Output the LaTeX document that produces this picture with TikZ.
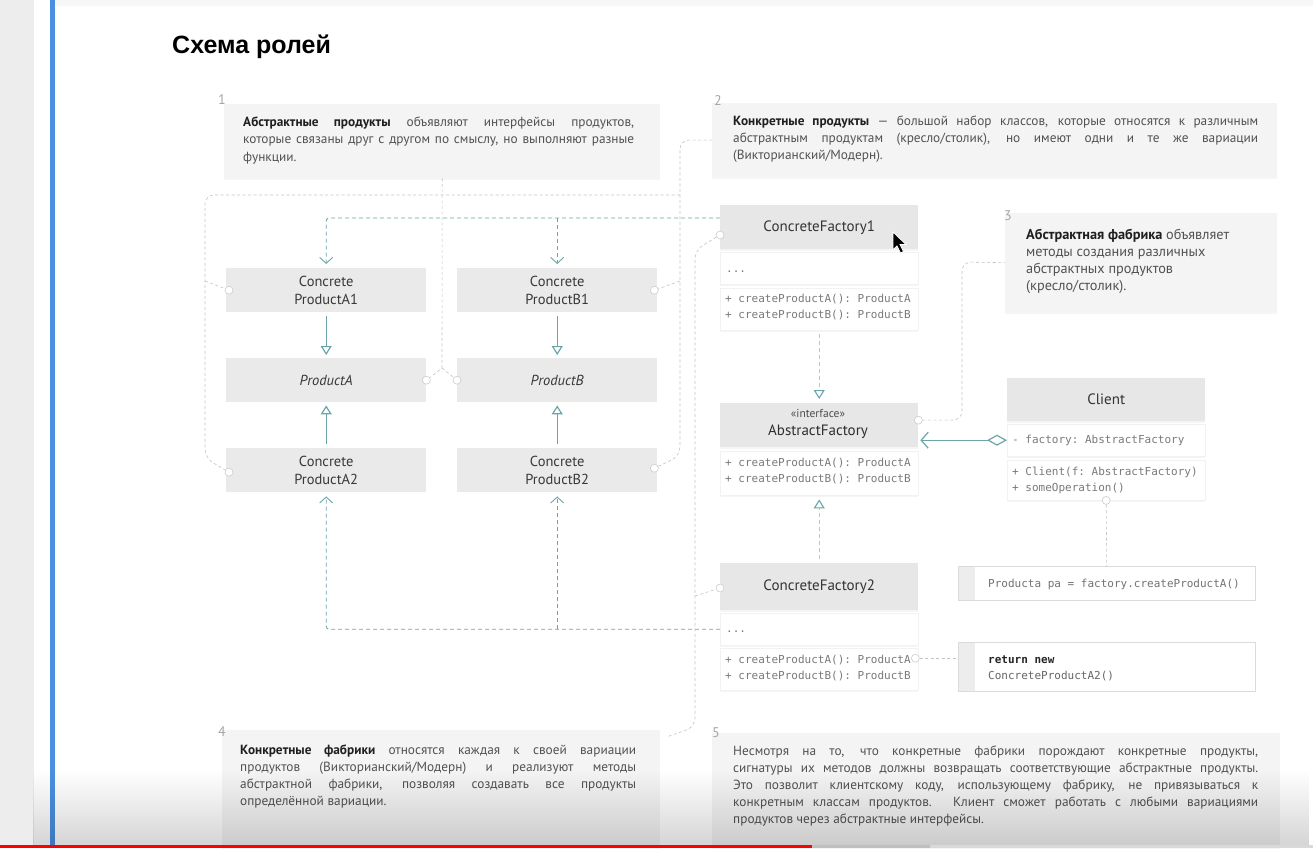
\documentclass[tikz,border=0pt]{standalone}
\usepackage{fontspec}
\setmainfont{PT Sans}
\setmonofont{DejaVu Sans Mono}
\newfontfamily\titlefont{Liberation Sans}
\usetikzlibrary{arrows.meta,shadows,fadings}
\definecolor{umlteal}{HTML}{6AA6A9}
\definecolor{notegray}{HTML}{F4F4F4}
\definecolor{hdrgray}{HTML}{E7E7E7}
\definecolor{prodgray}{HTML}{EAEAEA}
\definecolor{linegray}{HTML}{C4C4C4}
\definecolor{ytred}{HTML}{FF0000}
\definecolor{barblue}{HTML}{4A90E2}
\tikzfading[name=fadeup, top color=transparent!100, bottom color=transparent!25]
\newcommand{\jl}[1]{\makebox[\linewidth][s]{#1}}
\newcommand{\bt}[1]{\textcolor{black!88}{\textbf{#1}}}
\begin{document}
\begin{tikzpicture}[x=1pt,y=-1pt,
  notebox/.style={fill=notegray, draw=none, inner sep=0, anchor=north west,
    drop shadow={opacity=0.07, shadow xshift=0pt, shadow yshift=-2pt}},
  ntext/.style={inner sep=0, anchor=base west, text=black!68, font=\fontsize{13.3}{17}\selectfont},
  numl/.style={inner sep=0, text=black!35, font=\fontsize{14}{16}\selectfont},
  prod/.style={fill=prodgray, anchor=north west, minimum width=200pt, minimum height=44pt,
    inner sep=0, align=center, text=black!78, font=\fontsize{14.5}{18}\selectfont},
  hdr/.style={fill=hdrgray, anchor=north west, minimum width=198pt, inner sep=0,
    text=black!80, font=\fontsize{15}{17}\selectfont,
    drop shadow={opacity=0.08, shadow xshift=0pt, shadow yshift=-2pt}},
  sect/.style={fill=white, draw=black!5, anchor=north west, minimum width=198pt, inner sep=0,
    drop shadow={opacity=0.08, shadow xshift=0pt, shadow yshift=-2pt}},
  codebox/.style={fill=white, draw=black!14, anchor=north west, minimum width=297pt, inner sep=0},
  mtext/.style={inner sep=0, anchor=base west, text=black!52, font=\ttfamily\fontsize{11}{16}\selectfont},
  circ/.style={circle, draw=black!20, fill=white, minimum size=8pt, inner sep=0, line width=0.6pt},
  inh/.style={umlteal, line width=1.2pt, -{Triangle[open, length=9pt, width=11pt]}, shorten >=3pt, shorten <=4pt},
  dep/.style={umlteal, line width=0.9pt, dash pattern=on 4pt off 3pt, -{Straight Barb[length=6pt, width=13pt]}, shorten >=4pt},
  real/.style={linegray, line width=0.7pt, dash pattern=on 4pt off 3pt, -{Triangle[open, color=umlteal, length=9pt, width=11pt, line width=1.1pt]}, shorten >=4pt, shorten <=4pt},
  agg/.style={umlteal, line width=1.2pt, {Diamond[open, length=20pt, width=11pt]}-{Straight Barb[length=7pt, width=16pt]}, shorten >=2pt},
  notel/.style={linegray, line width=0.6pt, dash pattern=on 3pt off 2.5pt}
]
\useasboundingbox (0,0) rectangle (1313,848);
% background
\fill[white] (0,0) rectangle (1313,848);
\fill[black!7] (0,0) rectangle (34,848);
\fill[black!3] (55,0) rectangle (1313,6);
\fill[barblue] (50,0) rectangle (55,848);

% title
\node[anchor=base west, inner sep=0, text=black, font=\titlefont\bfseries\fontsize{25}{30}\selectfont] (title) at (172,54) {Схема ролей};

% notes
\node[notebox, minimum width=436pt, minimum height=74pt] (n1) at (224,104) {};
\node[notebox, minimum width=565pt, minimum height=74pt] (n2) at (712,103) {};
\node[notebox, minimum width=272pt, minimum height=99pt] (n3) at (1005,213) {};
\node[notebox, minimum width=438pt, minimum height=120pt] (n4) at (222,730) {};
\node[notebox, minimum width=568pt, minimum height=118pt] (n5) at (712,733) {};

\node[numl] (num1) at (222,100) {1};
\node[numl] (num2) at (718,101) {2};
\node[numl] (num3) at (1008,216) {3};
\node[numl] (num4) at (222,732) {4};
\node[numl] (num5) at (716,733) {5};

\node[ntext] (n1t) at (243,127) {\parbox[t]{391pt}{\jl{\bt{Абстрактные продукты} объявляют интерфейсы продуктов,}\\
\jl{которые связаны друг с другом по смыслу, но выполняют разные}\\
функции.}};
\node[ntext] (n2t) at (733,125) {\parbox[t]{525pt}{\jl{\bt{Конкретные продукты} — большой набор классов, которые относятся к различным}\\
\jl{абстрактным продуктам (кресло/столик), но имеют одни и те же вариации}\\
(Викторианский/Модерн).}};
\node[ntext, font=\fontsize{14.3}{17}\selectfont] (n3t) at (1026,239) {\parbox[t]{245pt}{\bt{Абстрактная фабрика} объявляет\\
методы создания различных\\
абстрактных продуктов\\
(кресло/столик).}};
\node[ntext] (n4t) at (240,754) {\parbox[t]{396pt}{\jl{\bt{Конкретные фабрики} относятся каждая к своей вариации}\\
\jl{продуктов (Викторианский/Модерн) и реализуют методы}\\
\jl{абстрактной фабрики, позволяя создавать все продукты}\\
определённой вариации.}};
\node[ntext] (n5t) at (733,755) {\parbox[t]{525pt}{\jl{Несмотря на то, что конкретные фабрики порождают конкретные продукты,}\\
\jl{сигнатуры их методов должны возвращать соответствующие абстрактные продукты.}\\
\jl{Это позволит клиентскому коду, использующему фабрику, не привязываться к}\\
\jl{конкретным классам продуктов. Клиент сможет работать с любыми вариациями}\\
продуктов через абстрактные интерфейсы.}};

% products
\node[prod] (cpa1) at (226,268) {Concrete\\ProductA1};
\node[prod] (pa) at (226,358) {\itshape ProductA};
\node[prod] (cpa2) at (226,448) {Concrete\\ProductA2};
\node[prod] (cpb1) at (457,268) {Concrete\\ProductB1};
\node[prod] (pb) at (457,358) {\itshape ProductB};
\node[prod] (cpb2) at (457,448) {Concrete\\ProductB2};

% class boxes
\node[hdr, minimum height=44pt] (cf1) at (720,205) {ConcreteFactory1};
\node[sect, minimum height=32pt] (cf1a) at (720,252) {};
\node[sect, minimum height=42pt] (cf1m) at (720,288) {};
\node[hdr, minimum height=44pt] (af) at (720,403) {};
\node[sect, minimum height=44pt] (afm) at (720,451) {};
\node[hdr, minimum height=47pt] (cf2) at (720,563) {ConcreteFactory2};
\node[sect, minimum height=32pt] (cf2a) at (720,613) {};
\node[sect, minimum height=42pt] (cf2m) at (720,648) {};
\node[hdr, minimum height=43pt] (client) at (1007,378) {Client};
\node[sect, minimum height=32pt] (clienta) at (1007,424) {};
\node[sect, minimum height=40pt] (clientm) at (1007,460) {};
\node[codebox, minimum height=34pt] (code1) at (958,566) {};
\node[codebox, minimum height=49pt] (code2) at (958,642) {};
\fill[black!7] ([shift={(0.5pt,-0.5pt)}]code1.north west) rectangle ([xshift=17pt, yshift=0.5pt]code1.south west);
\fill[black!7] ([shift={(0.5pt,-0.5pt)}]code2.north west) rectangle ([xshift=17pt, yshift=0.5pt]code2.south west);

\node[inner sep=0, text=black!70, font=\fontsize{11.5}{13}\selectfont] (aflab1) at (818,413) {«interface»};
\node[inner sep=0, text=black!82, font=\fontsize{15}{17}\selectfont] (aflab2) at (818,432) {AbstractFactory};

\node[mtext] (cf1dots) at (726,272) {...};
\node[mtext] (cf1mt) at (725,302) {\parbox[t]{192pt}{+ createProductA(): ProductA\\+ createProductB(): ProductB}};
\node[mtext] (afmt) at (725,466) {\parbox[t]{192pt}{+ createProductA(): ProductA\\+ createProductB(): ProductB}};
\node[mtext] (cf2dots) at (726,632) {...};
\node[mtext] (cf2mt) at (725,663) {\parbox[t]{192pt}{+ createProductA(): ProductA\\+ createProductB(): ProductB}};
\node[mtext] (clat) at (1012,443) {- factory: AbstractFactory};
\node[mtext] (clmt) at (1012,475) {\parbox[t]{192pt}{+ Client(f: AbstractFactory)\\+ someOperation()}};
\node[mtext, text=black!55] (c1t) at (988,587) {Producta pa = factory.createProductA()};
\node[mtext, text=black!60] (c2t) at (988,663) {\parbox[t]{250pt}{\textcolor{black!85}{\bfseries return new}\\ConcreteProductA2()}};

% inheritance
\draw[inh] (cpa1.south) -- (pa.north);
\draw[inh] (cpa2.north) -- (pa.south);
\draw[inh] (cpb1.south) -- (pb.north);
\draw[inh] (cpb2.north) -- (pb.south);

% dependencies from factories to concrete products
\coordinate (dtop) at ([yshift=-13pt]cf1.north west);
\coordinate (dbot) at (cf2a.west);
\draw[dep, rounded corners=3pt] (dtop) -- (cpa1.north |- dtop) -- (cpa1.north);
\draw[dep] (cpb1.north |- dtop) -- (cpb1.north);
\draw[dep, rounded corners=3pt] (dbot) -- (cpa2.south |- dbot) -- (cpa2.south);
\draw[dep] (cpb2.south |- dbot) -- (cpb2.south);

% realization
\draw[real] (cf1m.south) -- (af.north);
\draw[real] (cf2.north) -- (afm.south);

% aggregation
\draw[agg] (clienta.west) -- (clienta.west -| af.east);

% note connectors
\node[circ] (cPA) at (pa.east) {};
\node[circ] (cPB) at (pb.west) {};
\coordinate (j1) at (442,368);
\draw[notel] (n1.south) -- (j1) -- (cPA);
\draw[notel] (j1) -- (cPB);

\node[circ] (cA1) at ([xshift=3pt]cpa1.west) {};
\node[circ] (cA2) at ([xshift=3pt, yshift=-2pt]cpa2.west) {};
\node[circ] (cB1) at ([xshift=-3pt]cpb1.east) {};
\node[circ] (cB2) at ([xshift=-3pt, yshift=2pt]cpb2.east) {};
\coordinate (q1) at (680,140);
\coordinate (q2) at (680,195);
\coordinate (q3) at (680,456);
\coordinate (q4) at (205,195);
\coordinate (q5) at (205,458);
\coordinate (q6) at (680,281);
\coordinate (q7) at (205,281);
\draw[notel, rounded corners=9pt] (n2.west) -- (q1) -- (q3) -- (cB2);
\draw[notel, rounded corners=9pt] (q2) -- (q4) -- (q5) -- (cA2);
\draw[notel] (q6) -- (cB1);
\draw[notel] (q7) -- (cA1);

\node[circ] (cF1) at ([yshift=-30pt]cf1.north west) {};
\node[circ] (cF2) at ([yshift=-25pt]cf2.north west) {};
\coordinate (r1) at (695,250);
\coordinate (r2) at (695,727);
\coordinate (r3) at (695,596);
\draw[notel, rounded corners=9pt] (cF1) -- (r1) -- (r2) -- ([xshift=6pt, yshift=-7pt]n4.north east);
\draw[notel] (r3) -- (cF2);

\node[circ] (cAF) at ([yshift=5pt]af.east) {};
\coordinate (s1) at (962,420);
\coordinate (s2) at (962,262);
\draw[notel, rounded corners=9pt] (cAF) -- (s1) -- (s2) -- (n3.west);

\node[circ] (cCl) at (clientm.south) {};
\draw[notel] (cCl) -- (code1.north);
\node[circ] (cM) at ([yshift=11pt, xshift=-3pt]cf2m.east) {};
\draw[notel] (cM) -- (code2.west |- cM);

% mouse cursor
\fill[black, draw=white, line width=0.8pt] (893,232) -- ++(0,18) -- ++(4,-4) -- ++(3.5,7) -- ++(3,-1.5) -- ++(-3.5,-7) -- ++(6,0) -- cycle;

% bottom video overlay and progress bar
\fill[black, path fading=fadeup, fill opacity=0.22] (34,770) rectangle (1313,845);
\fill[ytred] (0,845) rectangle (812,848);
\fill[black!25] (812,845) rectangle (930,848);
\fill[black!15] (930,845) rectangle (1313,848);
\end{tikzpicture}
\end{document}
